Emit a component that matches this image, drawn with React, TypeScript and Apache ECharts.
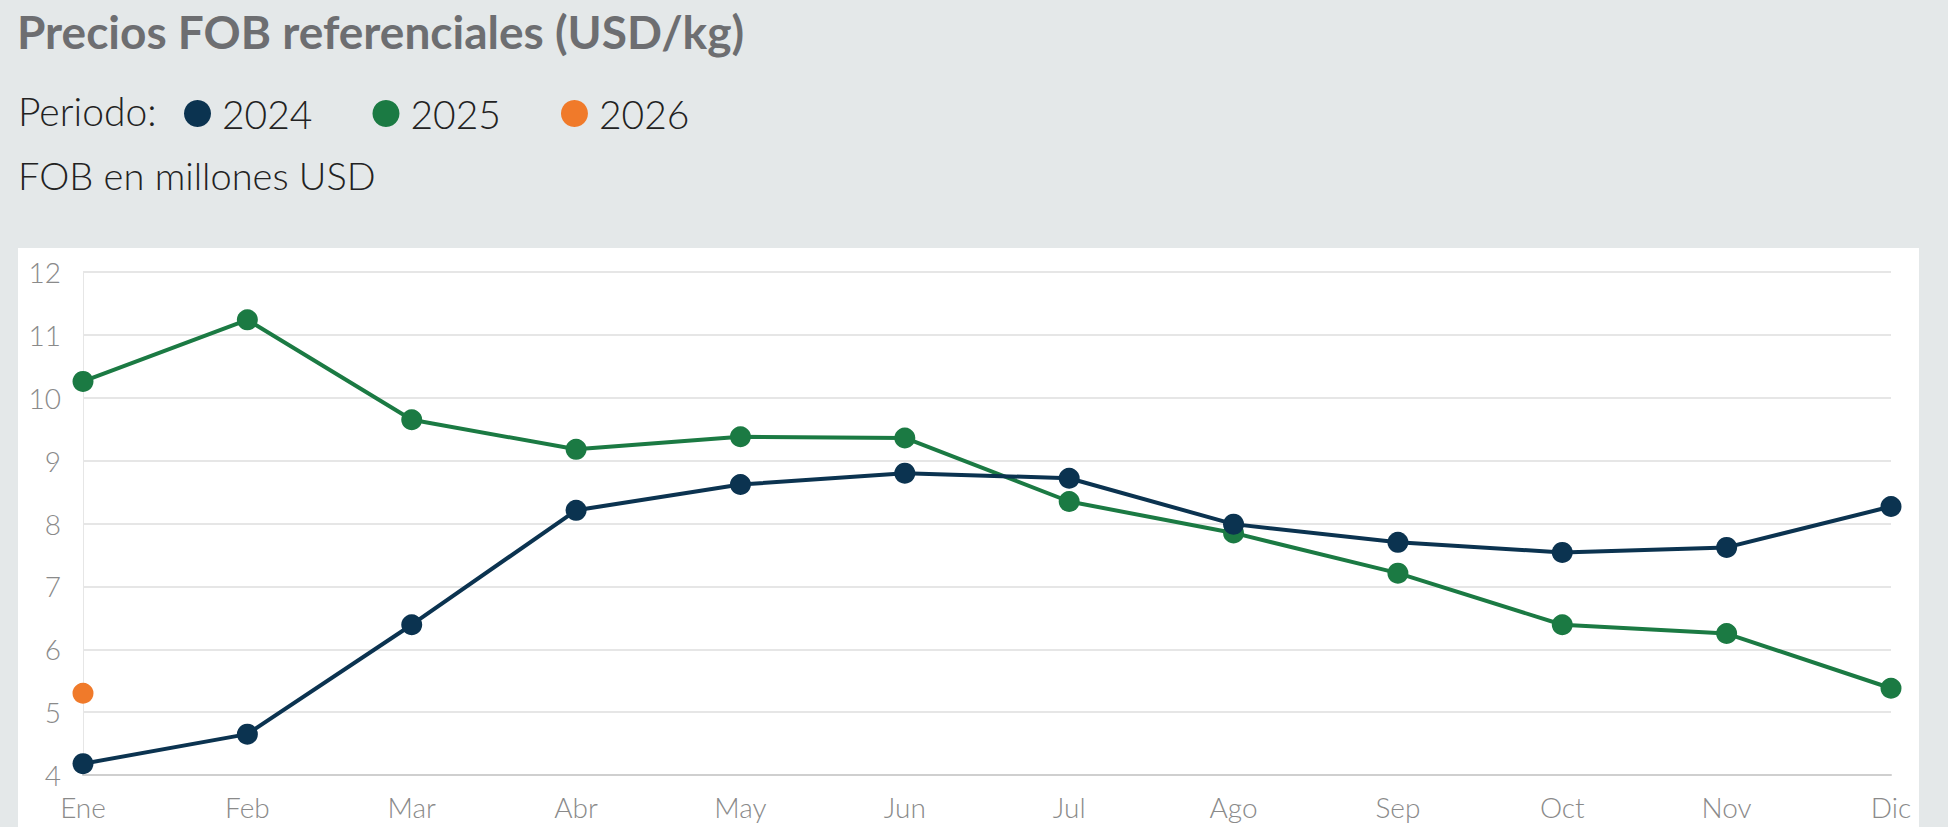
import React, { useEffect, useRef } from "react";
import * as echarts from "echarts";

const months = ["Ene", "Feb", "Mar", "Abr", "May", "Jun", "Jul", "Ago", "Sep", "Oct", "Nov", "Dic"];
const y2024 = [4.18, 4.65, 6.39, 8.21, 8.62, 8.8, 8.72, 7.99, 7.7, 7.54, 7.62, 8.27];
const y2025 = [10.26, 11.24, 9.65, 9.18, 9.38, 9.36, 8.35, 7.85, 7.21, 6.39, 6.25, 5.38];
const y2026: (number | null)[] = [5.3, null, null, null, null, null, null, null, null, null, null, null];
const seriesNames = ["2024", "2025", "2026"];
const colors = ["#0b3350", "#1b7a43", "#f07a2a"];

const FONT = "Lato, 'Noto Sans', sans-serif";

export default function App() {
  const ref = useRef<HTMLDivElement>(null);
  useEffect(() => {
    if (!ref.current) return;
    const chart = echarts.init(ref.current, undefined, { renderer: "svg" });
    chart.setOption({
      animation: false,
      backgroundColor: "#e4e8e9",
      textStyle: { fontFamily: FONT },
      title: {
        text: "Precios FOB referenciales (USD/kg)",
        left: 12,
        top: 3,
        textStyle: { fontFamily: FONT, fontSize: 46, fontWeight: "bold", color: "#6d6e71" },
      },
      graphic: [
        { type: "rect", z: -10, shape: { x: 18, y: 248, width: 1901, height: 600 }, style: { fill: "#ffffff" } },
        {
          type: "text",
          left: 18,
          top: 91,
          style: { text: "Periodo:", fontFamily: FONT, fontSize: 39, fontWeight: 300, fill: "#222" },
        },
        {
          type: "text",
          left: 18,
          top: 156,
          style: { text: "FOB en millones USD", fontFamily: FONT, fontSize: 38, fontWeight: 300, fill: "#222" },
        },
      ],
      legend: {
        left: 179,
        top: 89,
        icon: "circle",
        itemWidth: 27,
        itemHeight: 27,
        itemGap: 60,
        data: seriesNames,
        textStyle: { fontFamily: FONT, fontSize: 39, fontWeight: 300, color: "#222", padding: [0, 0, 0, 6] },
      },
      grid: { left: 83, right: 57, top: 272, bottom: 52, containLabel: false },
      xAxis: {
        type: "category",
        data: months,
        boundaryGap: false,
        axisLine: { show: true, lineStyle: { color: "#cfcfcf", width: 2 } },
        axisTick: { show: false },
        axisLabel: { fontFamily: FONT, fontSize: 28, fontWeight: 300, color: "#8a8a8a", margin: 18 },
      },
      yAxis: {
        type: "value",
        min: 4,
        max: 12,
        interval: 1,
        axisLine: { show: true, lineStyle: { color: "#e6e6e6", width: 1 } },
        axisTick: { show: false },
        splitLine: { lineStyle: { color: "#e6e6e6", width: 2 } },
        axisLabel: { fontFamily: FONT, fontSize: 28, fontWeight: 300, color: "#8a8a8a", margin: 22 },
      },
      series: [
        {
          name: seriesNames[0],
          type: "line",
          data: y2024,
          symbol: "circle",
          symbolSize: 21,
          itemStyle: { color: colors[0] },
          lineStyle: { color: colors[0], width: 4 },
          z: 3,
        },
        {
          name: seriesNames[1],
          type: "line",
          data: y2025,
          symbol: "circle",
          symbolSize: 21,
          itemStyle: { color: colors[1] },
          lineStyle: { color: colors[1], width: 4 },
          z: 2,
        },
        {
          name: seriesNames[2],
          type: "line",
          data: y2026,
          symbol: "circle",
          symbolSize: 21,
          showSymbol: true,
          itemStyle: { color: colors[2] },
          lineStyle: { color: colors[2], width: 4 },
          z: 4,
        },
      ],
    });
    return () => chart.dispose();
  }, []);
  return <div ref={ref} style={{ position: "absolute", left: 0, top: 0, width: 1948, height: 827 }} />;
}
